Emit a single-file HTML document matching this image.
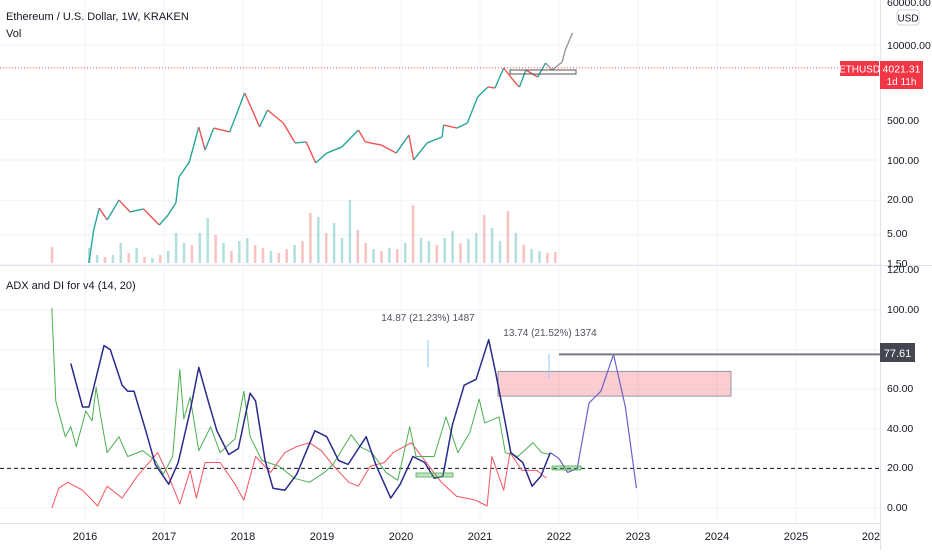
<!DOCTYPE html>
<html><head><meta charset="utf-8">
<style>
html,body{margin:0;padding:0;background:#fff;}
body{width:932px;height:550px;overflow:hidden;font-family:"Liberation Sans",sans-serif;}
svg text{font-family:"Liberation Sans",sans-serif;}
</style></head>
<body>
<svg id="chart" width="932" height="550" viewBox="0 0 932 550" xmlns="http://www.w3.org/2000/svg">
<g id="grid"></g>
<g id="vol"></g>
<g id="price"></g>
<g id="adx"></g>
<g id="axes"></g>
</svg>
<script>
// ---- Data ----
const priceDates = [2016.05,2016.11,2016.18,2016.28,2016.43,2016.57,2016.74,2016.94,2017.05,2017.15,2017.19,2017.32,2017.44,2017.52,2017.63,2017.83,2017.89,2018.02,2018.10,2018.21,2018.31,2018.51,2018.66,2018.80,2018.92,2019.06,2019.25,2019.46,2019.55,2019.75,2019.94,2020.10,2020.16,2020.33,2020.52,2020.54,2020.71,2020.84,2020.97,2021.10,2021.19,2021.30,2021.45,2021.50,2021.58,2021.73,2021.83,2021.91,2022.04,2022.08,2022.17];
const priceValues = [1.62,6.07,14.6,9.05,20.1,12.5,14.1,7.4,11.0,17.9,50.6,92,375,149,360,307,497,1462,835,375,741,440,198,206,89,132,168,333,206,182,132,272,100,198,251,406,360,440,1247,1862,1787,3981,2183,1862,3673,2775,4864,3673,5058,8190,16180];
const projStart = 47; // index from which candles are grey (projection)
const volDates = [2015.58,2016.05,2016.15,2016.25,2016.35,2016.45,2016.55,2016.65,2016.75,2016.85,2016.95,2017.05,2017.15,2017.25,2017.35,2017.45,2017.55,2017.65,2017.75,2017.85,2017.95,2018.05,2018.15,2018.25,2018.35,2018.45,2018.55,2018.65,2018.75,2018.85,2018.95,2019.05,2019.15,2019.25,2019.35,2019.45,2019.55,2019.65,2019.75,2019.85,2019.95,2020.05,2020.15,2020.25,2020.35,2020.45,2020.55,2020.65,2020.75,2020.85,2020.95,2021.05,2021.15,2021.25,2021.35,2021.45,2021.55,2021.65,2021.75,2021.85,2021.95];
const volValues = [16,15,8,6,8,20,10,15,6,5,8,12,30,20,18,30,45,28,20,12,22,25,18,15,12,10,14,18,22,50,46,30,40,25,63,33,20,14,12,15,14,20,58,25,22,18,25,32,20,24,30,48,35,22,52,30,18,14,12,10,11];
const volUp = [0,1,1,0,1,1,0,1,0,1,0,1,1,1,0,1,1,0,1,0,1,1,0,0,1,0,0,1,0,0,1,0,1,1,1,0,0,1,0,1,0,1,0,1,1,0,1,1,0,1,1,0,1,1,0,1,0,1,1,0,0];

const adxDates = [2015.82,2015.97,2016.05,2016.24,2016.32,2016.47,2016.54,2016.62,2016.77,2016.89,2017.06,2017.18,2017.33,2017.44,2017.56,2017.67,2017.82,2017.94,2018.09,2018.16,2018.28,2018.38,2018.53,2018.68,2018.91,2019.06,2019.21,2019.33,2019.56,2019.68,2019.87,2019.99,2020.15,2020.30,2020.42,2020.53,2020.65,2020.80,2020.95,2021.11,2021.20,2021.32,2021.39,2021.54,2021.66,2021.77,2021.89];
const adxValues = [73,51,51,82,80,62,59,59,39,22,12,23,49,71,54,39,27,30,58,54,24,10,9,17,39,36,24,22,36,22,5,12,26,23,15,16,42,62,65,85,68,43,28,23,11,16,28];
const projDates = [2021.89,2022.00,2022.11,2022.23,2022.38,2022.53,2022.69,2022.84,2022.98];
const projValues = [28,25,18,20,53,59,77.6,51,10];
const plusDates = [2015.58,2015.63,2015.75,2015.82,2015.89,2016.01,2016.09,2016.14,2016.20,2016.28,2016.43,2016.54,2016.73,2016.89,2016.99,2017.11,2017.20,2017.25,2017.33,2017.44,2017.59,2017.71,2017.90,2018.01,2018.09,2018.24,2018.46,2018.65,2018.84,2019.03,2019.14,2019.37,2019.48,2019.63,2019.81,2019.96,2020.11,2020.19,2020.42,2020.57,2020.72,2020.87,2020.99,2021.06,2021.24,2021.32,2021.48,2021.67,2021.78,2021.89];
const plusValues = [101,54,36,41,31,49,44,61,46,28,36,26,29,24,17,26,70,45,56,29,41,28,35,59,36,24,21,15,13,18,22,37,31,28,18,14,41,26,26,46,28,38,55,43,46,28,26,33,28,27];
const minusDates = [2015.58,2015.67,2015.78,2015.97,2016.16,2016.28,2016.47,2016.66,2016.92,2017.06,2017.20,2017.33,2017.41,2017.52,2017.71,2017.90,2018.01,2018.16,2018.35,2018.53,2018.68,2018.84,2018.99,2019.15,2019.34,2019.46,2019.61,2019.79,2019.90,2020.13,2020.32,2020.51,2020.70,2020.94,2021.09,2021.15,2021.30,2021.38,2021.53,2021.72,2021.84];
const minusValues = [0,10,13,9,1,11,5,16,28,16,2,19,5,23,23,12,4,26,18,28,31,33,29,21,13,11,21,23,28,33,23,13,6,4,1,26,9,28,19,19,15];

const yearTicks = ["2016","2017","2018","2019","2020","2021","2022","2023","2024","2025","202"];
const priceTicks = ["10000.00","500.00","100.00","20.00","5.00","1.50"];
const priceTickVals = [10000,500,100,20,5,1.5];
const adxTicks = ["100.00","80.00","60.00","40.00","20.00","0.00"];
const adxTickVals = [100,80,60,40,20,0];
const lastPrice = 4021.31;
const hLevel = 77.61;
const dashLevel = 20;

// ---- Scales ----
const X = t => 85 + (t - 2016) * 79;
const YP = v => 45 + (4 - Math.log10(v)) * 57.5;
const YA = v => 508 - v * 1.98;
const YV = v => 263 - v;
const NS = "http://www.w3.org/2000/svg";
function mk(parent, tag, attrs, txt){
  const e = document.createElementNS(NS, tag);
  for (const k in attrs) e.setAttribute(k, attrs[k]);
  if (txt !== undefined) e.textContent = txt;
  document.getElementById(parent).appendChild(e);
  return e;
}
// grid
for (let i = 0; i < yearTicks.length; i++) {
  const gx = X(2016 + i);
  const g = mk("grid","line",{x1:gx,x2:gx,y1:0,y2:523,stroke:"#f0f3fa","stroke-width":1});
  
  
}
priceTickVals.forEach(v => {
  const g = mk("grid","line",{x1:0,x2:880,y1:YP(v),y2:YP(v),stroke:"#f0f3fa"});
  
  
});
adxTickVals.forEach(v => {
  const g = mk("grid","line",{x1:0,x2:880,y1:YA(v),y2:YA(v),stroke:"#f0f3fa"});
  
  
});
// volume
volDates.forEach((d, i) => {
  const r = mk("vol","rect",{x:X(d)-1,y:YV(volValues[i]),width:2.5,height:volValues[i],fill:volUp[i]?"rgba(38,166,154,0.35)":"rgba(239,83,80,0.35)"});
  
  
});
// price
for (let i = 1; i < priceDates.length; i++) {
  const up = priceValues[i] >= priceValues[i-1];
  const col = i >= projStart ? "#9598a1" : (up ? "#26a69a" : "#ef5350");
  const l = mk("price","line",{x1:X(priceDates[i-1]),y1:YP(priceValues[i-1]),x2:X(priceDates[i]),y2:YP(priceValues[i]),stroke:col,"stroke-width":1.4});
  
  
}
const box = mk("price","rect",{x:510,y:70,width:66,height:4,fill:"none",stroke:"#555","stroke-width":1});


const ld = mk("price","line",{x1:0,x2:880,y1:YP(lastPrice),y2:YP(lastPrice),stroke:"#ef5350","stroke-dasharray":"1,2"});


// adx pane
const dl = mk("adx","line",{x1:0,x2:880,y1:YA(dashLevel),y2:YA(dashLevel),stroke:"#131722","stroke-dasharray":"4,3"});


const pk = mk("adx","rect",{x:498,y:YA(69),width:233,height:YA(56.5)-YA(69),fill:"rgba(242,54,69,0.25)",stroke:"#9598a1"});


function path(dates, vals, col, w, name){
  const d = dates.map((t,i)=>(i?"L":"M")+X(t).toFixed(1)+","+YA(vals[i]).toFixed(1)).join("");
  const p = mk("adx","path",{d:d,fill:"none",stroke:col,"stroke-width":w,"stroke-linejoin":"round"});
  
  
}
path(minusDates, minusValues, "#f7525f", 1, "minus-di-line");
path(plusDates, plusValues, "#4caf50", 1, "plus-di-line");
path(adxDates, adxValues, "#2a2a8c", 1.5, "adx-line");
path(projDates, projValues, "#6a62c8", 1.2, "adx-projection-line");
[[416,473,37],[552,466,29]].forEach(b=>{
  const r = mk("adx","rect",{x:b[0],y:b[1],width:b[2],height:4,fill:"rgba(76,175,80,0.35)",stroke:"#4caf50","stroke-width":0.8});
  
  
});
const hl = mk("adx","line",{x1:559,x2:880,y1:YA(hLevel),y2:YA(hLevel),stroke:"#787b86","stroke-width":2});


[[428,340,367],[549,354,378]].forEach(v=>{
  const l = mk("adx","line",{x1:v[0],x2:v[0],y1:v[1],y2:v[2],stroke:"#90caf9"});
  
  
});
</script>
<svg width="932" height="550" style="position:absolute;left:0;top:0" xmlns="http://www.w3.org/2000/svg">
<line x1="0" y1="265.5" x2="932" y2="265.5" stroke="#e0e3eb"/>
<line x1="880.5" y1="0" x2="880.5" y2="550" stroke="#e0e3eb"/>
<line x1="0" y1="523.5" x2="880" y2="523.5" stroke="#e0e3eb"/>
<text x="6" y="20" font-size="11" fill="#131722">Ethereum / U.S. Dollar, 1W, KRAKEN</text>
<text x="6" y="37" font-size="11" fill="#131722">Vol</text>
<text x="6" y="289" font-size="11" fill="#131722">ADX and DI for v4 (14, 20)</text>
<text x="428" y="321" font-size="10" fill="#50535e" text-anchor="middle">14.87 (21.23%) 1487</text>
<text x="550" y="336" font-size="10" fill="#50535e" text-anchor="middle">13.74 (21.52%) 1374</text>
<g font-size="10.5" fill="#131722">
<text x="887" y="6">60000.00</text>
<text x="887" y="49">10000.00</text>
<text x="887" y="124">500.00</text>
<text x="887" y="164">100.00</text>
<text x="887" y="203">20.00</text>
<text x="887" y="237">5.00</text>
<text x="887" y="267">1.50</text>
<text x="887" y="273">120.00</text>
<text x="887" y="313">100.00</text>
<text x="887" y="353">80.00</text>
<text x="887" y="392">60.00</text>
<text x="887" y="432">40.00</text>
<text x="887" y="471">20.00</text>
<text x="887" y="511">0.00</text>
</g>
<rect x="897" y="10" width="22" height="15" rx="3" fill="#fff" stroke="#d1d4dc"/>
<text x="908" y="21.5" font-size="10" fill="#131722" text-anchor="middle">USD</text>
<rect x="840" y="61" width="39" height="15" fill="#f23645"/>
<text x="859.5" y="72.5" font-size="10" fill="#fff" text-anchor="middle">ETHUSD</text>
<rect x="880" y="61" width="43" height="28" fill="#f23645"/>
<text x="901.5" y="72.5" font-size="10.5" fill="#fff" text-anchor="middle">4021.31</text>
<text x="901.5" y="85" font-size="10" fill="#fff" text-anchor="middle">1d 11h</text>
<rect x="880" y="343" width="35" height="19" fill="#434651"/>
<text x="897.5" y="357" font-size="11" fill="#fff" text-anchor="middle">77.61</text>
<g font-size="11" fill="#131722" text-anchor="middle">
<text x="85" y="540">2016</text><text x="164" y="540">2017</text><text x="243" y="540">2018</text><text x="322" y="540">2019</text><text x="401" y="540">2020</text><text x="480" y="540">2021</text><text x="559" y="540">2022</text><text x="638" y="540">2023</text><text x="717" y="540">2024</text><text x="796" y="540">2025</text><text x="871" y="540">202</text>
</g>
</svg>
</body></html>
